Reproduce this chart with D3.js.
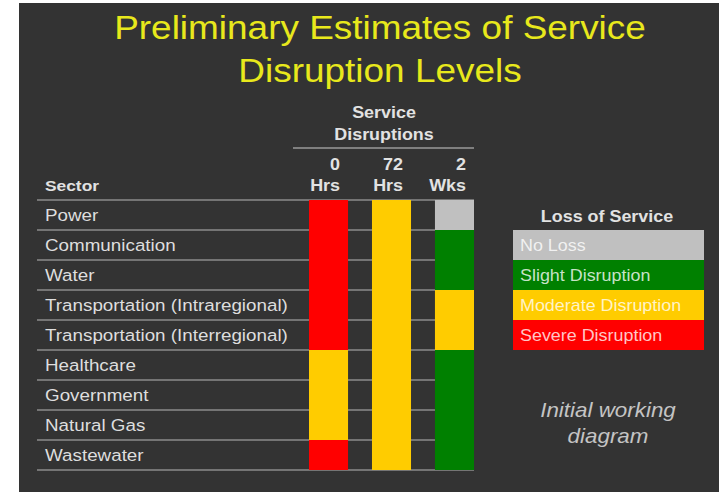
<!DOCTYPE html>
<html>
<head>
<meta charset="utf-8">
<script src="https://cdn.jsdelivr.net/npm/d3@7"></script>
<style>
  html, body { margin: 0; padding: 0; background: #ffffff; }
  svg { display: block; }
</style>
</head>
<body>
<div id="diagram_service"></div>
<script>

//****************************************************************************
//Data

const title_lines = ["Preliminary Estimates of Service", "Disruption Levels"]

const sectors = ["Power", "Communication", "Water", "Transportation (Intraregional)",
  "Transportation (Interregional)", "Healthcare", "Government", "Natural Gas", "Wastewater"]

const columns = ["0 Hrs", "72 Hrs", "2 Wks"]
const columnTop = ["0", "72", "2"]
const columnBottom = ["Hrs", "Hrs", "Wks"]

// loss of service per sector, one array per column
const level_0hrs = ["severe", "severe", "severe", "severe", "severe", "moderate", "moderate", "moderate", "severe"]
const level_72hrs = ["moderate", "moderate", "moderate", "moderate", "moderate", "moderate", "moderate", "moderate", "moderate"]
const level_2wks = ["none", "slight", "slight", "moderate", "moderate", "slight", "slight", "slight", "slight"]

const levelKeys = ["none", "slight", "moderate", "severe"]
const levelLabels = ["No Loss", "Slight Disruption", "Moderate Disruption", "Severe Disruption"]

//****************************************************************************
//Canvas

const canvWidth = 719
const canvHeight = 492
const sx = 1.12  // the source picture is stretched horizontally

const svg = d3.select("#diagram_service").append("svg")
  .attr("width", canvWidth)
  .attr("height", canvHeight)

svg.append("rect")
  .attr("x", 19).attr("y", 3)
  .attr("width", canvWidth - 19).attr("height", canvHeight - 3)
  .style("fill", "#333333")

const addText = (g, x, y, str, size, opts = {}) => g.append("text")
  .attr("transform", `translate(${x},${y}) scale(${sx},1)`)
  .attr("font-family", "'Liberation Sans', Arial, sans-serif")
  .attr("font-size", size)
  .attr("font-weight", opts.weight || "normal")
  .attr("font-style", opts.style || "normal")
  .style("text-anchor", opts.anchor || "start")
  .style("fill", opts.fill || "#e2e2e2")
  .text(str)

//****************************************************************************
//Title

title_lines.forEach((t, i) => addText(svg, 380, 39 + i * 43, t, 33, {anchor: "middle", fill: "#e8e81c"}))

//****************************************************************************
//Scales

const xScale = d3.scaleBand().domain(columns).range([309, 474]).paddingInner(0.38)
const yScale = d3.scaleBand().domain(sectors).range([200, 470])
const colorScale = d3.scaleOrdinal().domain(levelKeys)
  .range(["#c0c0c0", "#008000", "#ffcc00", "#ff0000"])

const table = columns.map((c, i) => ({
  column: c,
  values: [level_0hrs, level_72hrs, level_2wks][i]
}))

//****************************************************************************
//Table headers

const gTable = svg.append("g").attr("id", "table")

addText(gTable, 384, 118, "Service", 16, {anchor: "middle", weight: "bold"})
addText(gTable, 384, 140, "Disruptions", 16, {anchor: "middle", weight: "bold"})

gTable.append("line")
  .attr("x1", 293).attr("x2", xScale.range()[1])
  .attr("y1", 148).attr("y2", 148)
  .style("stroke", "#9a9a9a").style("stroke-width", 1.5)

columns.forEach((c, i) => {
  const xr = xScale(c) + xScale.bandwidth() - 8
  addText(gTable, xr, 170, columnTop[i], 16, {anchor: "end", weight: "bold"})
  addText(gTable, xr, 191, columnBottom[i], 16, {anchor: "end", weight: "bold"})
})

addText(gTable, 45, 191, "Sector", 15.5, {weight: "bold"})

//****************************************************************************
//Row lines & labels

gTable.selectAll("line.row")
  .data([...sectors.map(s => yScale(s)), yScale.range()[1]])
  .enter().append("line")
  .attr("class", "row")
  .attr("x1", 37).attr("x2", xScale.range()[1])
  .attr("y1", d => d).attr("y2", d => d)
  .style("stroke", "#8c8c8c").style("stroke-width", 1.5)

sectors.forEach(s => addText(gTable, 45, yScale(s) + 21, s, 16.8, {fill: "#dedede"}))

//****************************************************************************
//Cells

gTable.selectAll("g.col")
  .data(table)
  .enter().append("g")
  .attr("class", "col")
  .selectAll("rect")
  .data(d => d.values.map((v, i) => ({column: d.column, sector: sectors[i], level: v})))
  .enter().append("rect")
  .attr("x", d => xScale(d.column))
  .attr("y", d => yScale(d.sector))
  .attr("width", xScale.bandwidth())
  .attr("height", yScale.bandwidth())
  .style("fill", d => colorScale(d.level))

//****************************************************************************
//Legend

const gLegend = svg.append("g").attr("id", "legend")
const legendY = d3.scaleBand().domain(levelKeys).range([230, 350])

addText(gLegend, 607, 222, "Loss of Service", 16, {anchor: "middle", weight: "bold"})

gLegend.selectAll("rect")
  .data(levelKeys)
  .enter().append("rect")
  .attr("x", 513)
  .attr("y", d => legendY(d))
  .attr("width", 191)
  .attr("height", legendY.bandwidth())
  .style("fill", d => colorScale(d))

levelKeys.forEach((k, i) => addText(gLegend, 520, legendY(k) + 21, levelLabels[i], 16, {fill: "rgba(255,255,255,0.78)"}))

addText(svg, 608, 417, "Initial working", 20, {anchor: "middle", style: "italic", fill: "#c4c4c4"})
addText(svg, 608, 443, "diagram", 20, {anchor: "middle", style: "italic", fill: "#c4c4c4"})

</script>
</body>
</html>
